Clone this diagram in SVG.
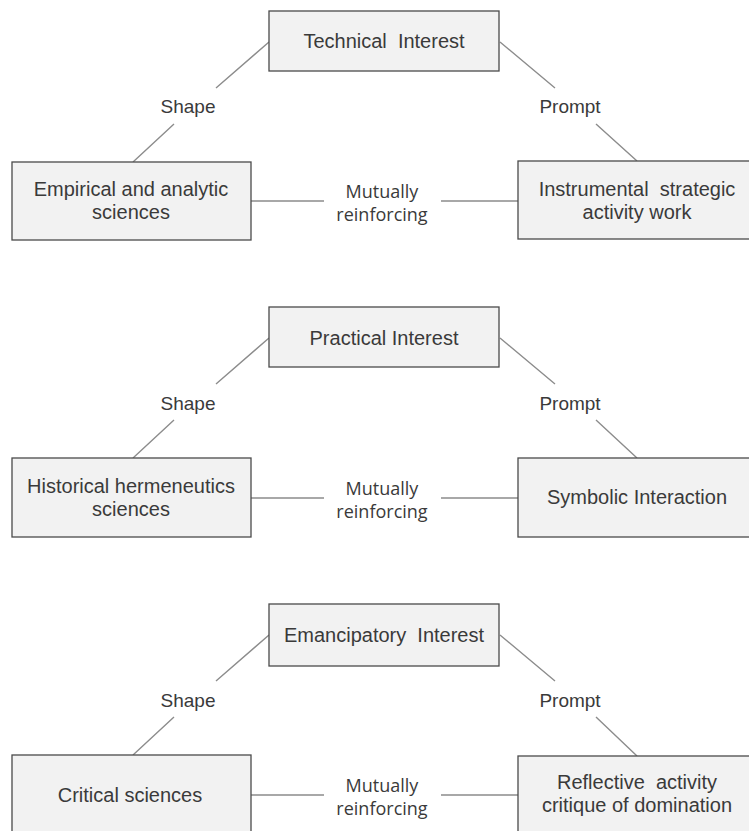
<svg xmlns="http://www.w3.org/2000/svg" width="749" height="831" viewBox="0 0 749 831">
  <style>
    .box { fill: #f2f2f2; stroke: #4a4a4a; stroke-width: 1.3; }
    .link { stroke: #8c8c8c; stroke-width: 1.4; fill: none; }
    .t { font-family: "Liberation Sans", Arial, sans-serif; font-size: 20px; fill: #3a3a3a; text-anchor: middle; }
    .lab { font-family: "Liberation Sans", Arial, sans-serif; font-size: 19px; fill: #3a3a3a; text-anchor: middle; }
    .mid { font-family: "Open Sans", "Noto Sans", sans-serif; font-size: 18px; fill: #3a3a3a; text-anchor: middle; }
  </style>
  <rect width="749" height="831" fill="#ffffff"/>

  <!-- connectors: diagonals to the interest boxes and the horizontal links -->
  <g id="connectors">
    <!-- section 1 -->
    <path class="link" d="M269 42 L216 88 M174 124 L133 162"/>
    <path class="link" d="M500 42 L555 88 M596 124 L637 161"/>
    <path class="link" d="M251 201 H324 M441 201 H518"/>
    <!-- section 2 -->
    <path class="link" d="M269 338 L216 384 M174 420 L133 458"/>
    <path class="link" d="M500 338 L555 384 M596 420 L637 458"/>
    <path class="link" d="M251 498 H324 M441 498 H518"/>
    <!-- section 3 -->
    <path class="link" d="M269 635 L216 681 M174 717 L133 755"/>
    <path class="link" d="M500 635 L555 681 M596 717 L637 756"/>
    <path class="link" d="M251 795 H324 M441 795 H518"/>
  </g>

  <!-- edge labels -->
  <g id="labels">
    <text class="lab" x="188" y="113">Shape</text>
    <text class="lab" x="570" y="113">Prompt</text>
    <text class="mid" x="382" y="198">Mutually</text>
    <text class="mid" x="382" y="221">reinforcing</text>

    <text class="lab" x="188" y="410">Shape</text>
    <text class="lab" x="570" y="410">Prompt</text>
    <text class="mid" x="382" y="495">Mutually</text>
    <text class="mid" x="382" y="518">reinforcing</text>

    <text class="lab" x="188" y="707">Shape</text>
    <text class="lab" x="570" y="707">Prompt</text>
    <text class="mid" x="382" y="792">Mutually</text>
    <text class="mid" x="382" y="815">reinforcing</text>
  </g>

  <!-- section 1 -->
  <g id="technical-interest">
    <rect class="box" x="269" y="11" width="230" height="60"/>
    <text class="t" x="384" y="48" xml:space="preserve">Technical  Interest</text>
  </g>
  <g id="empirical-analytic">
    <rect class="box" x="12" y="162" width="239" height="78"/>
    <text class="t" x="131" y="196">Empirical and analytic</text>
    <text class="t" x="131" y="219">sciences</text>
  </g>
  <g id="instrumental-activity">
    <rect class="box" x="518" y="161" width="239" height="78"/>
    <text class="t" x="637" y="196" xml:space="preserve">Instrumental  strategic</text>
    <text class="t" x="637" y="219">activity work</text>
  </g>

  <!-- section 2 -->
  <g id="practical-interest">
    <rect class="box" x="269" y="307" width="230" height="60"/>
    <text class="t" x="384" y="345">Practical Interest</text>
  </g>
  <g id="historical-hermeneutics">
    <rect class="box" x="12" y="458" width="239" height="79"/>
    <text class="t" x="131" y="493">Historical hermeneutics</text>
    <text class="t" x="131" y="516">sciences</text>
  </g>
  <g id="symbolic-interaction">
    <rect class="box" x="518" y="458" width="239" height="79"/>
    <text class="t" x="637" y="504">Symbolic Interaction</text>
  </g>

  <!-- section 3 -->
  <g id="emancipatory-interest">
    <rect class="box" x="269" y="604" width="230" height="62"/>
    <text class="t" x="384" y="642" xml:space="preserve">Emancipatory  Interest</text>
  </g>
  <g id="critical-sciences">
    <rect class="box" x="12" y="755" width="239" height="80"/>
    <text class="t" x="130" y="802">Critical sciences</text>
  </g>
  <g id="reflective-activity">
    <rect class="box" x="518" y="756" width="239" height="80"/>
    <text class="t" x="637" y="789" xml:space="preserve">Reflective  activity</text>
    <text class="t" x="637" y="812">critique of domination</text>
  </g>
</svg>
